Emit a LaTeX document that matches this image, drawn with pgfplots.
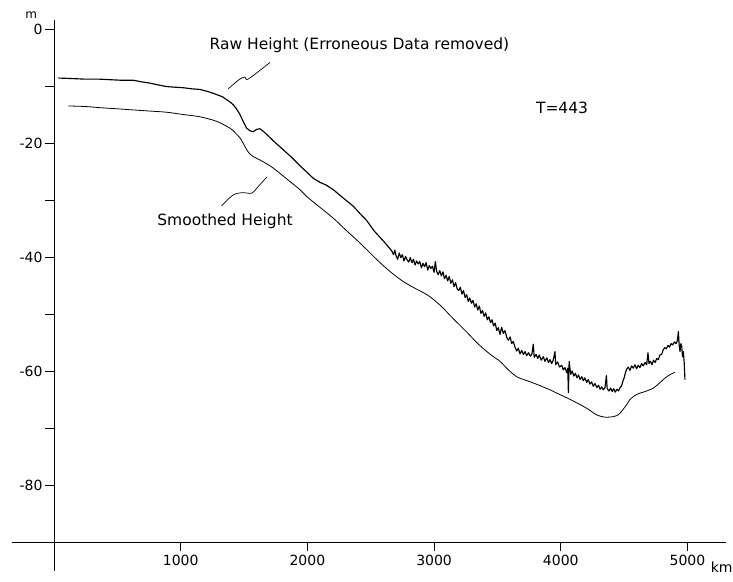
\documentclass[border=0pt]{standalone}
\usepackage{fontspec}
\setmainfont{DejaVu Sans}
\usepackage{pgfplots}
\pgfplotsset{compat=1.18}
\begin{document}
\begin{tikzpicture}
\useasboundingbox (-54pt,-39pt) rectangle (679pt,542pt);
\begin{axis}[
  at={(0,0)}, anchor=south west,
  scale only axis, width=671.5pt, height=522.1pt,
  xmin=0, xmax=5300, ymin=-90, ymax=1.6,
  axis x line=bottom, axis y line=left,
  axis line style={-, line width=0.9pt},
  clip=false,
  tick align=outside,
  major tick length=9pt,
  tick style={line width=0.9pt, black},
  xtick={1000,2000,3000,4000,5000},
  xticklabels={1000,2000,3000,4000,5000},
  ytick={-80,-70,-60,-50,-40,-30,-20,-10,0},
  yticklabels={-80,,-60,,-40,,-20,,0},
  tick label style={font=\fontsize{14}{16}\selectfont},
  xticklabel style={yshift=-1pt},
  yticklabel style={xshift=1pt},
]
\addplot[black, line width=1.15pt, line join=round] coordinates {
(34,-8.6) (150,-8.7) (250,-8.8) (363,-8.8) (450,-8.9) (540,-9.0) (627,-9.0) (700,-9.3)
(758,-9.5) (820,-9.8) (889,-10.1) (950,-10.2) (1020,-10.3) (1090,-10.5) (1152,-10.6)
(1220,-11.0) (1284,-11.5) (1330,-11.9) (1363,-12.4) (1395,-12.9) (1416,-13.3) (1440,-14.0)
(1468,-15.0) (1495,-16.3) (1521,-17.4) (1550,-17.9) (1574,-18.0) (1600,-17.6) (1626,-17.5)
(1655,-18.0) (1679,-18.5) (1740,-19.8) (1810,-21.2) (1870,-22.4) (1942,-24.0) (2000,-25.2)
(2047,-26.2) (2100,-26.9) (2150,-27.4) (2205,-28.2) (2280,-29.6) (2363,-31.1) (2420,-32.5)
(2468,-33.6) (2530,-35.5) (2600,-37.2)
(2650,-38.5) (2665,-38.9) (2680,-39.6) (2690,-38.8) (2700,-39.8) (2712,-40.4) (2725,-39.3)
(2737,-40.1) (2750,-39.6) (2762,-40.7) (2775,-39.9) (2787,-40.5) (2800,-40.9) (2812,-40.1)
(2825,-41.0) (2837,-40.4) (2850,-41.4) (2862,-40.7) (2875,-41.2) (2887,-40.8) (2900,-41.9)
(2912,-41.1) (2925,-41.7) (2937,-41.0) (2950,-42.3) (2962,-41.5) (2975,-42.0) (2987,-41.6)
(3000,-42.7) (3010,-40.8) (3020,-42.5) (3032,-43.1) (3045,-42.4) (3057,-43.3) (3070,-42.6)
(3082,-43.8) (3095,-43.2) (3107,-44.2) (3120,-43.4) (3132,-44.6) (3145,-44.0) (3157,-45.2)
(3170,-44.5) (3182,-45.6) (3195,-45.9) (3207,-45.3) (3220,-46.5) (3232,-45.9) (3245,-47.1)
(3257,-46.6) (3270,-47.8) (3282,-47.2) (3295,-48.1) (3307,-47.6) (3320,-48.8) (3332,-48.2)
(3345,-49.3) (3357,-48.6) (3370,-49.9) (3382,-49.4) (3395,-50.4) (3407,-49.8) (3420,-51.0)
(3432,-50.5) (3445,-51.5) (3457,-51.0) (3470,-52.1) (3482,-51.6) (3495,-52.9) (3507,-52.4)
(3520,-53.6) (3533,-52.3) (3546,-53.4) (3560,-52.9) (3573,-54.1) (3587,-54.6) (3600,-54.0)
(3612,-55.2) (3625,-54.8) (3638,-55.8) (3652,-56.5) (3665,-56.0) (3678,-57.0) (3692,-56.4)
(3705,-57.1) (3718,-56.6) (3731,-57.3) (3745,-56.8) (3760,-57.4) (3772,-57.0) (3783,-55.3)
(3790,-57.6) (3805,-57.1) (3818,-57.8) (3830,-57.2) (3845,-58.1) (3862,-57.5) (3875,-58.3)
(3890,-57.7) (3903,-58.5) (3915,-58.0) (3928,-58.7) (3940,-58.1) (3954,-56.6) (3960,-58.9)
(3975,-58.4) (3990,-59.3) (4007,-59.0) (4020,-59.8) (4033,-59.4) (4047,-60.3) (4055,-59.5)
(4060,-63.8) (4066,-58.3) (4078,-60.6) (4090,-60.0) (4103,-60.9) (4115,-60.4) (4128,-61.2)
(4140,-60.7) (4152,-61.5) (4165,-61.0) (4178,-61.7) (4190,-61.2) (4204,-62.0) (4217,-61.5)
(4230,-62.3) (4243,-61.9) (4257,-62.7) (4270,-62.2) (4285,-62.9) (4298,-62.5) (4310,-63.2)
(4323,-62.8) (4336,-63.3) (4349,-62.9) (4360,-60.8) (4366,-63.1) (4380,-63.5) (4393,-63.0)
(4406,-63.6) (4418,-63.1) (4430,-63.7) (4443,-63.2) (4456,-63.5) (4468,-62.9) (4480,-62.6)
(4490,-61.8) (4500,-61.2) (4510,-60.3) (4520,-59.7) (4533,-59.3) (4546,-59.9) (4559,-59.1)
(4572,-59.5) (4585,-58.9) (4598,-59.6) (4611,-59.0) (4625,-59.4) (4638,-58.7) (4651,-59.1)
(4665,-58.5) (4678,-58.9) (4688,-56.8) (4696,-58.7) (4708,-58.3) (4720,-58.9) (4732,-58.1)
(4745,-58.5) (4757,-57.8) (4770,-58.0) (4782,-57.2) (4796,-57.1) (4808,-56.3) (4820,-55.9)
(4833,-56.1) (4846,-55.5) (4858,-55.8) (4871,-55.2) (4884,-55.4) (4897,-54.9) (4910,-55.2)
(4920,-54.7) (4928,-53.1) (4935,-55.6) (4941,-56.6) (4948,-55.2) (4954,-55.6) (4961,-57.5)
(4967,-56.6) (4974,-58.5) (4980,-61.5)
};
\addplot[black, line width=0.8pt, line join=round, smooth] coordinates {
(113,-13.5) (250,-13.6) (363,-13.8) (500,-14.0) (627,-14.2) (760,-14.4) (889,-14.6)
(1020,-15.0) (1152,-15.4) (1284,-16.2) (1389,-17.4) (1430,-18.2) (1468,-19.1) (1495,-20.1)
(1521,-21.2) (1550,-22.0) (1574,-22.4) (1610,-22.8) (1652,-23.3) (1731,-24.4) (1837,-26.3)
(1942,-28.2) (1995,-29.4) (2100,-31.3) (2205,-33.2) (2300,-35.2) (2389,-37.0) (2468,-38.7)
(2550,-40.5) (2650,-42.5) (2750,-44.2) (2850,-45.5) (2950,-46.7) (3050,-48.5) (3150,-50.8)
(3250,-53.0) (3350,-55.3) (3450,-57.2) (3520,-58.3) (3586,-59.8) (3652,-61.0) (3720,-61.6)
(3783,-62.1) (3850,-62.7) (3915,-63.3) (3980,-64.0) (4047,-64.7) (4110,-65.4) (4178,-66.2)
(4230,-66.9) (4283,-67.7) (4350,-68.1) (4415,-68.0) (4445,-67.8) (4467,-67.4) (4493,-66.7)
(4520,-65.9) (4546,-65.0) (4572,-64.5) (4610,-64.0) (4651,-63.7) (4690,-63.4) (4730,-63.0)
(4770,-62.3) (4809,-61.5) (4850,-60.8) (4901,-60.2)
};
% leader lines
\addplot[black, line width=0.7pt, smooth] coordinates {
(1705,-5.86) (1534,-8.77) (1507,-8.42) (1468,-8.77) (1428,-9.47) (1376,-10.47)
};
\addplot[black, line width=0.7pt, smooth] coordinates {
(1323,-31.0) (1415,-29.1) (1494,-28.7) (1560,-28.8) (1613,-27.6) (1679,-26.0)
};
% axis extensions
\draw[line width=0.9pt] (axis cs:-330,-90) -- (axis cs:0,-90);
\draw[line width=0.9pt] (axis cs:0,-90) -- (axis cs:0,-95);
\node[font=\fontsize{15.5}{18}\selectfont] at (axis cs:2411,-2.9) {Raw Height (Erroneous Data removed)};
\node[font=\fontsize{15.5}{18}\selectfont] at (axis cs:1350,-33.7) {Smoothed Height};
\node[font=\fontsize{15.5}{18}\selectfont] at (axis cs:4010,-13.9) {T=443};
\node[font=\fontsize{12}{14}\selectfont] at (axis cs:-180,2.4) {m};
\node[font=\fontsize{14}{16}\selectfont] at (axis cs:5270,-94.5) {km};
\end{axis}
\end{tikzpicture}
\end{document}
